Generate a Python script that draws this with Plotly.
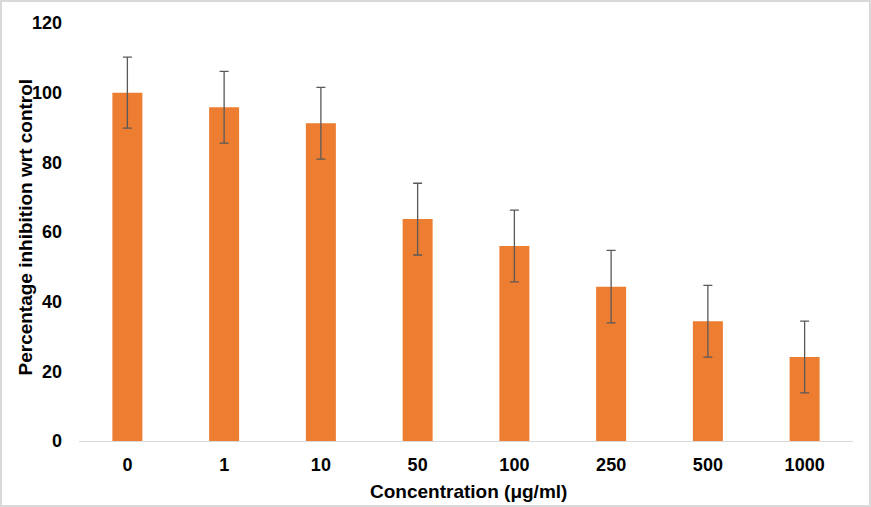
import plotly.graph_objects as go

categories = ["0", "1", "10", "50", "100", "250", "500", "1000"]
values = [100.0, 95.8, 91.2, 63.7, 56.0, 44.3, 34.4, 24.1]
errors = [10.2, 10.3, 10.3, 10.3, 10.3, 10.4, 10.3, 10.3]
y_ticks = [0, 20, 40, 60, 80, 100, 120]

W, H = 871, 507
L, R, T, B = 79, 18, 23, 66
pw, ph = W - L - R, H - T - B

font = "Liberation Sans, Arial, sans-serif"

def px_x(p):
    return (p - L) / pw

def px_y(p):
    return (H - B - p) / ph

fig = go.Figure(go.Bar(
    x=categories, y=values,
    marker=dict(color="#ED7D31", line=dict(width=0)),
    width=0.31,
    error_y=dict(type="data", array=errors, visible=True,
                 color="#595959", thickness=1.3, width=4.5),
))

fig.update_layout(
    width=W, height=H,
    margin=dict(l=L, r=R, t=T, b=B, autoexpand=False),
    paper_bgcolor="white", plot_bgcolor="white",
    showlegend=False,
    font=dict(family=font, color="#000000", size=18),
    xaxis=dict(
        type="category",
        showline=True, linecolor="#D9D9D9", linewidth=1.3,
        showgrid=False, zeroline=False,
        ticks="", ticklabelstandoff=7,
        tickfont=dict(family=font, size=18, color="#000000", weight="bold"),
    ),
    yaxis=dict(
        range=[0, 120], tickvals=y_ticks,
        showline=False, showgrid=False, zeroline=False,
        ticks="", ticklabelstandoff=16,
        tickfont=dict(family=font, size=18, color="#000000", weight="bold"),
    ),
    annotations=[
        dict(text="<b>Concentration (μg/ml)</b>", xref="paper", yref="paper",
             x=px_x(468), y=px_y(491.5), xanchor="center", yanchor="middle",
             showarrow=False, font=dict(family=font, size=19, color="#000000")),
        dict(text="<b>Percentage inhibition wrt control</b>", xref="paper", yref="paper",
             x=px_x(25), y=px_y(227.5), xanchor="center", yanchor="middle",
             textangle=-90, showarrow=False,
             font=dict(family=font, size=19, color="#000000")),
    ],
    shapes=[dict(
        type="rect", xref="paper", yref="paper",
        x0=px_x(1), x1=px_x(W - 1),
        y0=px_y(H - 1), y1=px_y(1),
        line=dict(color="#D9D9D9", width=2), fillcolor="rgba(0,0,0,0)",
        layer="below",
    )],
)

fig.write_html("out.html", config={"displayModeBar": False},
               post_script="document.body.style.margin='0';")
